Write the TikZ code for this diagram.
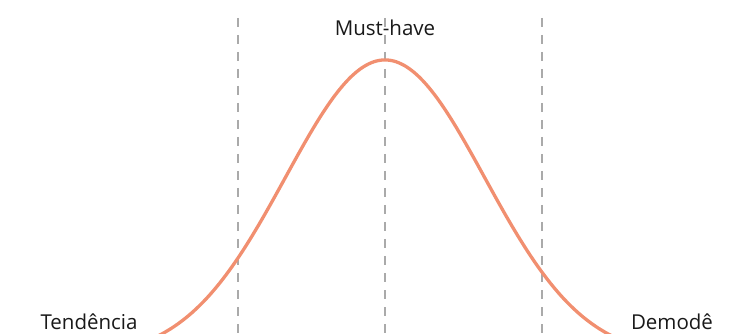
\documentclass[tikz,border=0pt]{standalone}
\usepackage{fontspec}
\setmainfont{Open Sans}
\usepackage{tikz}
\usetikzlibrary{calc}
\definecolor{curvecol}{RGB}{241,143,112}
\definecolor{guidecol}{RGB}{170,170,170}

\begin{document}
\begin{tikzpicture}[x=1pt, y=-1pt, font=\fontsize{20.5}{24}\selectfont,
    guide/.style={draw=guidecol, line width=1.4pt, dash pattern=on 9pt off 8pt},
    bell/.style={draw=curvecol, line width=3.3pt},
    lbl/.style={inner sep=0pt, text=black!90}]
    \useasboundingbox (0,0) rectangle (729,334);
    \clip (0,0) rectangle (729,334);

    % stages
    \foreach \n/\x in {a/238, b/385, c/542} {
      \coordinate (\n top) at (\x, 18);
      \coordinate (\n bot) at (\x, 340);
      \draw[guide] (\n top) -- (\n bot);
    }

    % life cycle curve
    \draw[bell] plot[domain=-2.7:2.7, samples=120, smooth, variable=\t]
      ({385+100*\t}, {358-298*exp(-(\t*\t)/1.9788)});

    \node[lbl] (must) at (385, 28) {Must-have};
    \node[lbl] (trend) at (89, 322) {Tendência};
    \node[lbl] (old) at (672, 322) {Demodê};
  \end{tikzpicture}
\end{document}
